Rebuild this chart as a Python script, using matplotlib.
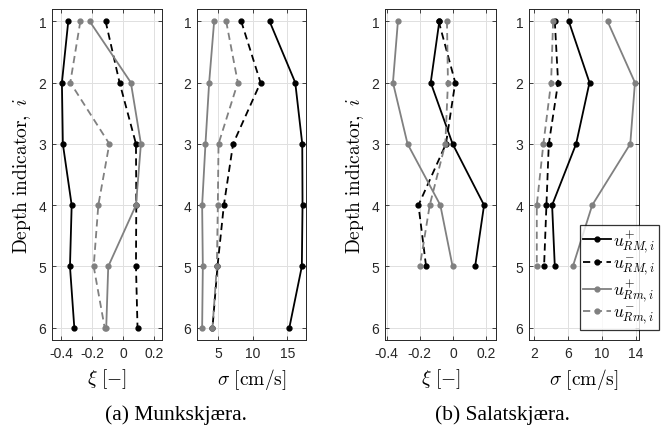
import matplotlib
matplotlib.use("Agg")
import matplotlib.pyplot as plt
import numpy as np

plt.rcParams['mathtext.fontset'] = 'cm'
plt.rcParams['font.family'] = ['Liberation Sans', 'DejaVu Sans']

# Depth indicators
depth_a = [1, 2, 3, 4, 5, 6]
depth_b = [1, 2, 3, 4, 5]

# (a) Munkskjaera - skewness xi
xi_a_RM_plus = [-0.355, -0.396, -0.39, -0.333, -0.344, -0.316]
xi_a_RM_minus = [-0.114, -0.024, 0.082, 0.084, 0.082, 0.092]
xi_a_Rm_plus = [-0.217, 0.049, 0.114, 0.082, -0.097, -0.11]
xi_a_Rm_minus = [-0.277, -0.342, -0.090, -0.161, -0.191, -0.12]

# (a) Munkskjaera - sigma [cm/s]
sig_a_RM_plus = [12.45, 16.15, 17.16, 17.2, 17.1, 15.3]
sig_a_RM_minus = [8.37, 11.15, 7.2, 5.87, 4.95, 4.23]
sig_a_Rm_plus = [4.47, 3.75, 3.22, 2.74, 2.84, 2.74]
sig_a_Rm_minus = [6.2, 7.88, 5.1, 5.0, 4.86, 4.23]

# (b) Salatskjaera - skewness xi
xi_b_RM_plus = [-0.082, -0.134, -0.002, 0.188, 0.134]
xi_b_RM_minus = [-0.086, 0.014, -0.042, -0.208, -0.162]
xi_b_Rm_plus = [-0.332, -0.362, -0.274, -0.076, -0.002]
xi_b_Rm_minus = [-0.036, -0.03, -0.046, -0.14, -0.2]

# (b) Salatskjaera - sigma [cm/s]
sig_b_RM_plus = [6.1, 8.55, 6.97, 4.13, 4.45]
sig_b_RM_minus = [4.45, 4.84, 3.74, 3.46, 3.18]
sig_b_Rm_plus = [10.68, 13.92, 13.37, 8.87, 6.58]
sig_b_Rm_minus = [4.25, 4.01, 3.1, 2.32, 2.32]

labels = [r'$u^{+}_{RM,i}$', r'$u^{-}_{RM,i}$', r'$u^{+}_{Rm,i}$', r'$u^{-}_{Rm,i}$']
captions = ['(a) Munkskjæra.', '(b) Salatskjæra.']

W, H = 664, 431
fig = plt.figure(figsize=(W / 100, H / 100), dpi=100)

GRAY = (0.5, 0.5, 0.5)
styles = [
    dict(color='black', linestyle='-'),
    dict(color='black', linestyle=(0, (4, 2.5))),
    dict(color=GRAY, linestyle='-'),
    dict(color=GRAY, linestyle=(0, (4, 2.5))),
]

def add_ax(x0, x1, y0=10, y1=341):
    return fig.add_axes([x0 / W, 1 - y1 / H, (x1 - x0) / W, (y1 - y0) / H])

panels = [
    (add_ax(52, 162), depth_a, [xi_a_RM_plus, xi_a_RM_minus, xi_a_Rm_plus, xi_a_Rm_minus],
     (-0.46, 0.25), [-0.4, -0.2, 0, 0.2], ['-0.4', '-0.2', '0', '0.2'], r'$\xi\ [-]$', True),
    (add_ax(197, 306), depth_a, [sig_a_RM_plus, sig_a_RM_minus, sig_a_Rm_plus, sig_a_Rm_minus],
     (2.0, 17.7), [5, 10, 15], ['5', '10', '15'], r'$\sigma\ [\mathrm{cm/s}]$', False),
    (add_ax(385, 496), depth_b, [xi_b_RM_plus, xi_b_RM_minus, xi_b_Rm_plus, xi_b_Rm_minus],
     (-0.41, 0.26), [-0.4, -0.2, 0, 0.2], ['-0.4', '-0.2', '0', '0.2'], r'$\xi\ [-]$', True),
    (add_ax(529, 639), depth_b, [sig_b_RM_plus, sig_b_RM_minus, sig_b_Rm_plus, sig_b_Rm_minus],
     (1.4, 14.4), [2, 6, 10, 14], ['2', '6', '10', '14'], r'$\sigma\ [\mathrm{cm/s}]$', False),
]

handles = None
for ax, depth, series, xlim, xt, xtl, xlab, ylab in panels:
    hs = []
    for vals, st, lab in zip(series, styles, labels):
        h, = ax.plot(vals, depth, marker='o', markersize=3.5, linewidth=1.3,
                     label=lab, **st)
        hs.append(h)
    if handles is None:
        handles = hs
    ax.set_xlim(*xlim)
    ax.set_ylim(6.2, 0.8)
    ax.set_yticks([1, 2, 3, 4, 5, 6])
    ax.set_xticks(xt)
    ax.set_xticklabels(xtl)
    ax.grid(True, color=(0.88, 0.88, 0.88), linewidth=0.7)
    ax.set_axisbelow(True)
    ax.tick_params(direction='in', length=3, width=0.6, labelsize=10,
                   top=True, right=True, colors=(0.15, 0.15, 0.15), pad=4)
    for s in ax.spines.values():
        s.set_color((0.15, 0.15, 0.15))
        s.set_linewidth(0.7)
    ax.set_xlabel(xlab, fontsize=14, labelpad=5)
    if ylab:
        ax.set_ylabel(r'$\mathrm{Depth\ indicator,}\ i$', fontsize=14, labelpad=4)

leg = fig.legend(handles=handles, labels=labels, loc='upper left',
                 bbox_to_anchor=(580 / W, 1 - 226 / H), bbox_transform=fig.transFigure,
                 fontsize=12.5, frameon=True, fancybox=False, edgecolor='black',
                 handlelength=1.6, handletextpad=0.1, labelspacing=0.05,
                 borderpad=0.2, borderaxespad=0)
leg.get_frame().set_linewidth(0.9)

fig.text(176 / W, 1 - 415 / H, captions[0], ha='center', va='center',
         fontsize=15.5, family='Liberation Serif')
fig.text(502 / W, 1 - 415 / H, captions[1], ha='center', va='center',
         fontsize=15.5, family='Liberation Serif')

fig.savefig('out.png', dpi=100)
